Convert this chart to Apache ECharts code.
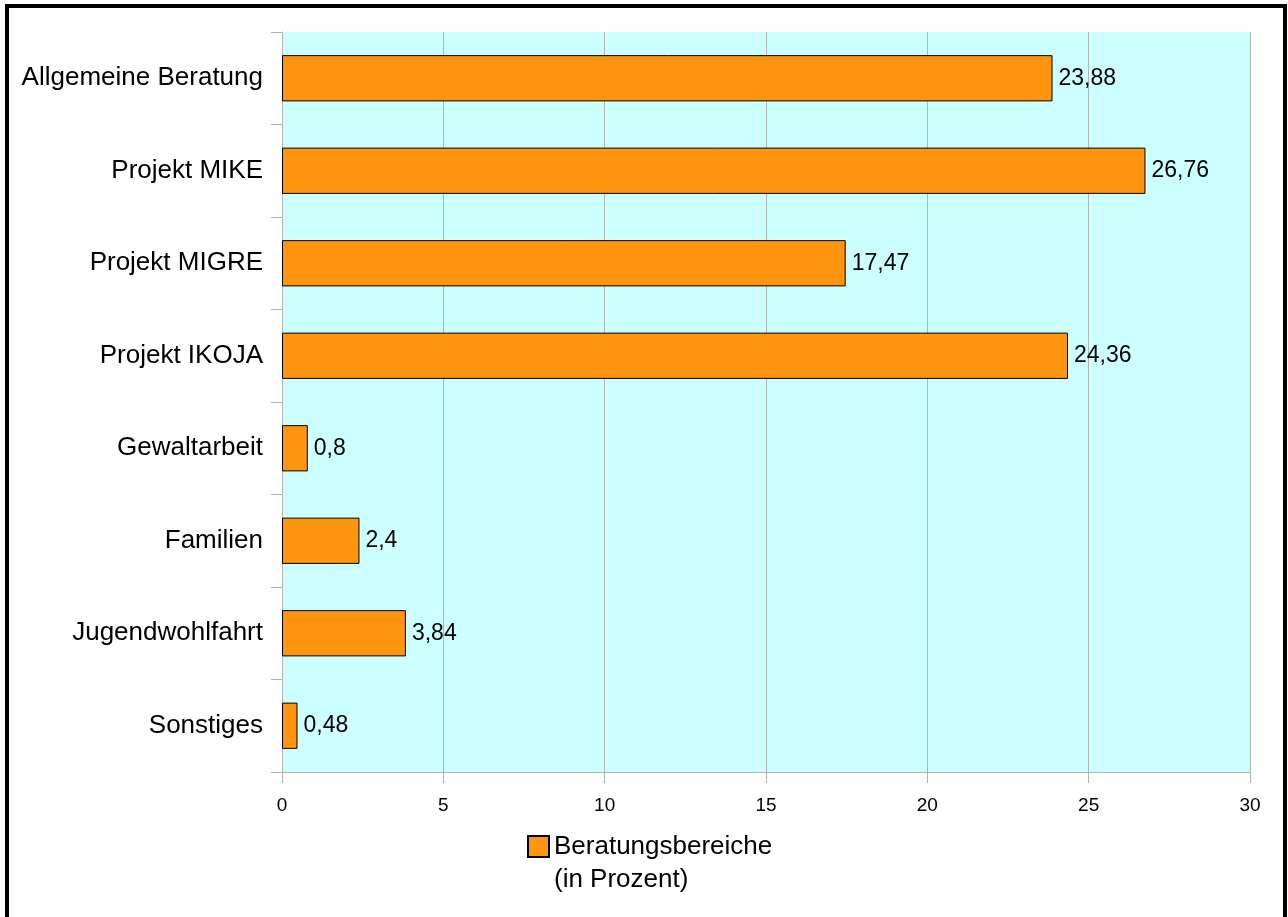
<!DOCTYPE html>
<html>
<head>
<meta charset="utf-8">
<script src="https://cdn.jsdelivr.net/npm/echarts@6/dist/echarts.min.js"></script>
<style>
  html, body { margin: 0; padding: 0; background: #fff; }
  #frame {
    position: absolute; left: 5px; top: 4px; width: 1274px; height: 913px;
    border: 4px solid #000; border-bottom: none; pointer-events: none;
  }
  #chart { position: absolute; left: 0; top: 0; width: 1288px; height: 917px; }
</style>
</head>
<body>
<div id="chart"></div>
<div id="frame"></div>
<script>
// Beratungsbereiche
const categories = [
  "Allgemeine Beratung",
  "Projekt MIKE",
  "Projekt MIGRE",
  "Projekt IKOJA",
  "Gewaltarbeit",
  "Familien",
  "Jugendwohlfahrt",
  "Sonstiges"
];
const values = [23.88, 26.76, 17.47, 24.36, 0.8, 2.4, 3.84, 0.48];
const seriesName = "Beratungsbereiche\n(in Prozent)";

const gray = "#b3b3b3";
const font = "Liberation Sans, Arial, sans-serif";

const chart = echarts.init(document.getElementById("chart"));
chart.setOption({
  animation: false,
  textStyle: { fontFamily: font },
  grid: {
    left: 282, right: 38, top: 32, bottom: 145,
    show: true, backgroundColor: "#ccffff", borderWidth: 0
  },
  legend: {
    data: [seriesName],
    left: 522, top: 792,
    itemWidth: 21, itemHeight: 21, itemGap: 11,
    icon: "rect",
    // blank first line so the icon sits beside the first text line
    formatter: name => "\u00a0\n" + name,
    textStyle: { fontSize: 26, color: "#000", lineHeight: 33, fontFamily: font }
  },
  xAxis: {
    type: "value",
    min: 0, max: 30, interval: 5,
    axisLine: { show: true, lineStyle: { color: gray, width: 1 } },
    axisTick: { show: true, length: 11, lineStyle: { color: gray } },
    splitLine: { show: true, lineStyle: { color: gray, width: 1 } },
    axisLabel: { fontSize: 19, color: "#000", margin: 24 }
  },
  yAxis: {
    type: "category",
    inverse: true,
    data: categories,
    axisLine: { show: true, lineStyle: { color: gray, width: 1 } },
    axisTick: { show: true, length: 11, lineStyle: { color: gray } },
    axisLabel: { fontSize: 26, color: "#000", margin: 19 }
  },
  series: [{
    name: seriesName,
    type: "bar",
    data: values,
    barWidth: "50%",
    itemStyle: { color: "#ff950e", borderColor: "#000", borderWidth: 1 },
    label: {
      show: true, position: "right", distance: 6,
      fontSize: 23, color: "#000",
      formatter: p => String(p.value).replace(".", ",")
    }
  }]
});
</script>
</body>
</html>
